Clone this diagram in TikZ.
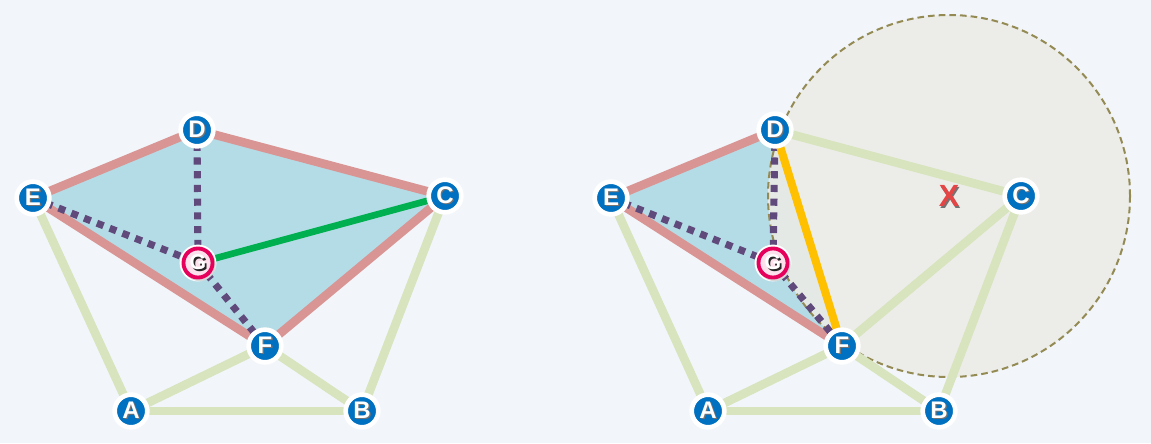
\documentclass[tikz,border=0pt]{standalone}
\usepackage{fontspec}
\setmainfont{Liberation Sans}
\usetikzlibrary{shadows}
\definecolor{bgc}{HTML}{F2F6FA}
\definecolor{regionblue}{HTML}{B4DCE6}
\definecolor{pinkedge}{HTML}{D99594}
\definecolor{lightgreen}{HTML}{D7E4BD}
\definecolor{dotpurple}{HTML}{604A7B}
\definecolor{solidgreen}{HTML}{00B050}
\definecolor{gold}{HTML}{FFC000}
\definecolor{circfill}{HTML}{ECECE6}
\definecolor{circline}{HTML}{948A54}
\definecolor{nodeblue}{HTML}{0070C0}
\definecolor{nodemag}{HTML}{E6005C}
\definecolor{xred}{HTML}{E64545}
\pgfdeclarelayer{bottom}
\pgfdeclarelayer{fills}
\pgfdeclarelayer{edges}
\pgfsetlayers{bottom,fills,edges,main}
\newcommand\shl[1]{\makebox[0pt][l]{\hspace{1pt}\raisebox{-1pt}{\color{black!55}#1}}#1}
\newcommand\shg[1]{\makebox[0pt][l]{\hspace{1.2pt}\raisebox{-1.2pt}{\color{black!85}#1}}#1}
\tikzset{
  vtx/.style={circle, fill=nodeblue, draw=white, line width=3.5pt, minimum size=24.5pt,
    inner sep=0pt, text=white, font=\fontsize{18}{18}\selectfont\bfseries,
    drop shadow={opacity=0.3, shadow xshift=1pt, shadow yshift=-1.2pt}},
  gvtx/.style={circle, fill=nodemag!12, draw=nodemag, line width=2.9pt, minimum size=21.8pt,
    inner sep=0pt, text=white, font=\fontsize{16}{16}\selectfont\bfseries,
    preaction={draw=white, line width=5.8pt},
    drop shadow={opacity=0.3, shadow xshift=1pt, shadow yshift=-1.2pt, shadow scale=1.12}},
  greenedge/.style={lightgreen, line width=6.5pt},
  pinkline/.style={pinkedge, line width=6.5pt},
  dotline/.style={dotpurple, line width=5.3pt, dash pattern=on 5.3pt off 5pt},
  gcline/.style={solidgreen, line width=5pt},
  yline/.style={gold, line width=6pt},
  region/.style={fill=regionblue},
  testcircle/.style={fill=circfill, fill opacity=0.86, draw=circline, line width=1.5pt, dash pattern=on 5pt off 3pt},
}
\begin{document}
\begin{tikzpicture}[x=0.75pt,y=-0.75pt]
\begin{pgfonlayer}{bottom}
\fill[bgc] (0,0) rectangle (1151,443);
\end{pgfonlayer}
\useasboundingbox (0,0) rectangle (1151,443);

% ---------------- left graph ----------------
\node[vtx] (lD) at (197,130) {\shl{D}};
\node[vtx] (lE) at (33,198) {\shl{E}};
\node[vtx] (lC) at (445,196) {\shl{C}};
\node[gvtx] (lG) at (198,263) {\shg{G}};
\node[vtx] (lF) at (265,346) {\shl{F}};
\node[vtx] (lA) at (131,411) {\shl{A}};
\node[vtx] (lB) at (362,411) {\shl{B}};

\begin{pgfonlayer}{fills}
  \fill[region] (lE.center) -- (lD.center) -- (lC.center) -- (lF.center) -- cycle;
\end{pgfonlayer}
\begin{pgfonlayer}{edges}
  \draw[greenedge] (lE.center) -- (lA.center);
  \draw[greenedge] (lA.center) -- (lF.center);
  \draw[greenedge] (lA.center) -- (lB.center);
  \draw[greenedge] (lF.center) -- (lB.center);
  \draw[greenedge] (lB.center) -- (lC.center);
  \draw[pinkline] (lE.center) -- (lD.center);
  \draw[pinkline] (lD.center) -- (lC.center);
  \draw[pinkline] (lC.center) -- (lF.center);
  \draw[pinkline] (lF.center) -- (lE.center);
  \draw[dotline] (lD.center) -- (lG.center);
  \draw[dotline] (lE.center) -- (lG.center);
  \draw[dotline] (lG.center) -- (lF.center);
  \draw[gcline] (lG.center) -- (lC.center);
\end{pgfonlayer}

% ---------------- right graph ----------------
\node[vtx] (rD) at (775,130) {\shl{D}};
\node[vtx] (rE) at (611,198) {\shl{E}};
\node[vtx] (rC) at (1021,196) {\shl{C}};
\node[gvtx] (rG) at (773,263) {\shg{G}};
\node[vtx] (rF) at (842,346) {\shl{F}};
\node[vtx] (rA) at (708,411) {\shl{A}};
\node[vtx] (rB) at (939,411) {\shl{B}};
\coordinate (cc) at (949,196);
\node[text=xred, font=\fontsize{23}{23}\selectfont\bfseries] (xm) at (949,197) {\shl{X}};

\begin{pgfonlayer}{fills}
  \fill[region] (rE.center) -- (rD.center) -- (rF.center) -- cycle;
  \path[testcircle] (cc) circle [radius=181];
\end{pgfonlayer}
\begin{pgfonlayer}{edges}
  \draw[greenedge] (rE.center) -- (rA.center);
  \draw[greenedge] (rA.center) -- (rF.center);
  \draw[greenedge] (rA.center) -- (rB.center);
  \draw[greenedge] (rF.center) -- (rB.center);
  \draw[greenedge] (rB.center) -- (rC.center);
  \draw[greenedge] (rD.center) -- (rC.center);
  \draw[greenedge] (rF.center) -- (rC.center);
  \draw[pinkline] (rE.center) -- (rD.center);
  \draw[pinkline] (rF.center) -- (rE.center);
  \draw[dotline] (rD.center) -- (rG.center);
  \draw[dotline] (rE.center) -- (rG.center);
  \draw[dotline] (rG.center) -- (rF.center);
  \draw[yline] (rD.center) -- (rF.center);
\end{pgfonlayer}
\end{tikzpicture}
\end{document}
